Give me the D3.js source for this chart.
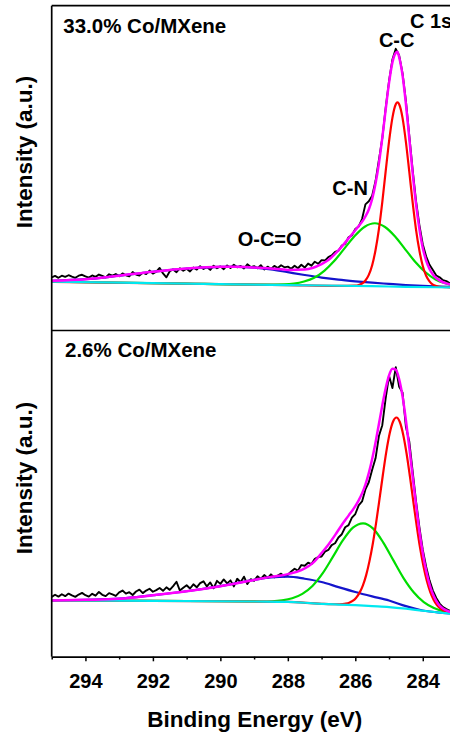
<!DOCTYPE html>
<html>
<head>
<meta charset="utf-8">
<script src="https://cdn.jsdelivr.net/npm/d3@7/dist/d3.min.js"></script>
<style>
  body { margin: 0; background: #fff; }
  text { font-family: Arial, "Liberation Sans", sans-serif; font-weight: bold; fill: #000; }
</style>
</head>
<body>
<svg id="chart" width="450" height="738"></svg>
<script>
// ---- data (binding energy in eV, intensity in arbitrary units) ----
const majorTicks = [294, 292, 290, 288, 286, 284];
const minorTicks = [295, 293, 291, 289, 287, 285, 283];

// measured spectra, one point every 0.1 eV starting at 295.0 eV
const energyStart = 295, energyStep = 0.1;
const rawTop = [
  2.2, 2.8, 2.0, 2.9, 2.4, 3.1, 2.5, 2.0, 2.9, 3.3,
  2.6, 2.1, 3.0, 2.4, 3.4, 2.8, 2.2, 3.5, 2.9, 3.6,
  2.7, 3.9, 3.1, 2.6, 4.5, 3.4, 3.0, 4.2, 3.6, 5.1,
  3.8, 4.6, 6.2, 3.9, 2.2, 4.8, 5.6, 4.4, 6.1, 5.0,
  5.9, 4.7, 6.4, 5.5, 7.0, 5.8, 6.6, 5.4, 7.2, 6.1,
  6.9, 5.7, 7.3, 6.2, 7.6, 6.5, 7.1, 6.0, 7.8, 6.6,
  7.0, 6.1, 7.4, 5.6, 6.8, 5.8, 7.1, 6.2, 7.4, 6.5,
  6.8, 5.9, 7.2, 6.1, 7.6, 6.4, 8.1, 7.2, 8.9, 8.0,
  9.6, 9.4, 10.9, 11.6, 13.1, 13.6, 15.8, 16.6, 19.4, 20.2,
  22.9, 24.0, 27.2, 33.5, 34.8, 37.2, 43.5, 52.6, 61.8, 74.8,
  86.4, 95.6, 100.2, 97.4, 89.8, 77.9, 63.1, 48.3, 35.0, 24.6,
  16.4, 11.2, 7.6, 5.3, 3.0, 2.2, 1.0, 0.6, -0.3
];
const rawBottom = [
  1.5, 2.4, 1.6, 2.6, 1.8, 2.9, 2.1, 1.5, 2.5, 3.2,
  2.2, 1.6, 2.8, 2.0, 3.6, 2.4, 1.8, 3.1, 2.6, 1.9,
  3.4, 4.2, 2.9, 3.5, 2.3, 3.8, 4.6, 3.1, 4.2, 5.0,
  3.7, 4.4, 5.3, 4.1, 5.6, 4.5, 6.1, 8.0, 4.2, 5.4,
  6.5, 5.1, 6.9, 5.6, 7.4, 8.2, 6.0, 7.7, 5.2, 8.4,
  7.1, 9.0, 7.3, 8.6, 6.0, 9.3, 7.8, 10.2, 7.0, 9.1,
  8.4, 10.4, 9.2, 10.9, 9.6, 11.2, 9.9, 10.7, 11.5, 10.3,
  11.0, 12.4, 13.6, 12.8, 15.2, 14.9, 16.2, 15.6, 17.9, 18.6,
  18.9, 21.0, 21.7, 23.8, 24.6, 27.1, 28.5, 31.5, 32.4, 35.6,
  37.2, 40.9, 42.6, 47.8, 50.9, 56.3, 61.2, 70.8, 75.5, 87.0,
  96.8, 91.5, 100.5, 92.0, 89.6, 74.8, 68.5, 55.6, 42.8, 31.6,
  21.8, 14.5, 8.6, 4.2, 1.0, -1.4, -2.9, -3.8, -4.5
];

// fitted curves, [energy, intensity]
const topBackground = [[295, 0.3], [292, -0.3], [289, -0.9], [287, -1.3], [285.5, -1.6], [284.5, -1.85], [283, -2.15]];
const topOCO = [[295, 0.7], [294, 1.4], [293, 2.9], [292, 4.6], [291, 6.0], [290, 6.7], [289.5, 6.7], [289, 6.4],
  [288.5, 5.6], [288, 4.4], [287.5, 3.2], [287, 2.1], [286.5, 1.2], [286, 0.5], [285.5, -0.1], [285, -0.6],
  [284.5, -1.1], [284, -1.5], [283.5, -1.8], [283, -2.0]];
const topCN = [[295, 0.3], [291, -0.5], [289.5, -0.85], [288.42, -0.9], [288.12, -0.84], [287.82, -0.5],
  [287.52, 0.4], [287.22, 2.0], [286.92, 5.0], [286.62, 9.3], [286.32, 14.6], [286.02, 19.9], [285.72, 23.9],
  [285.42, 25.4], [285.12, 23.8], [284.82, 19.7], [284.52, 14.2], [284.22, 8.8], [283.92, 4.4], [283.62, 1.3],
  [283.32, -0.4], [283.02, -1.45]];
const topCC = [[295, 0.3], [290, -0.72], [288, -1.12], [286.5, -1.43], [286.0, -1.34], [285.9, -1.07],
  [285.8, -0.44], [285.7, 0.84], [285.6, 3.25], [285.5, 7.37], [285.4, 13.95], [285.3, 22.9], [285.2, 34.5],
  [285.1, 47.6], [285.0, 60.4], [284.9, 70.6], [284.8, 76.4], [284.75, 77.2], [284.7, 76.4], [284.6, 70.6],
  [284.5, 60.3], [284.4, 47.5], [284.3, 34.3], [284.2, 22.7], [284.1, 13.7], [284.0, 7.1], [283.9, 2.9],
  [283.8, 0.5], [283.7, -0.9], [283.6, -1.5], [283.5, -1.84], [283.3, -2.05], [283.0, -2.15]];
const topEnvelope = [[295, 0.7], [294, 1.4], [293, 2.9], [292, 4.6], [291, 6.0], [290, 6.7], [289.5, 6.7],
  [289, 6.4], [288.5, 6.0], [288, 5.4], [287.5, 5.6], [287, 7.9], [286.8, 9.6], [286.6, 12.3], [286.4, 15.4],
  [286.2, 18.9], [286.0, 22.4], [285.9, 24.2], [285.8, 26.0], [285.7, 28.3], [285.6, 31.3], [285.5, 35.8],
  [285.4, 42.4], [285.3, 51.1], [285.2, 62.0], [285.1, 74.1], [285.0, 85.6], [284.9, 94.4], [284.8, 98.5],
  [284.75, 98.9], [284.7, 96.6], [284.6, 88.9], [284.5, 76.6], [284.4, 61.9], [284.3, 46.9], [284.2, 33.6],
  [284.1, 23.0], [284.0, 14.8], [283.9, 9.4], [283.8, 5.8], [283.7, 3.45], [283.6, 1.9], [283.5, 0.9],
  [283.4, 0.1], [283.3, -0.4], [283.2, -0.8], [283.0, -1.35]];

const bottomBackground = [[295, 0.0], [292, -0.2], [289, -0.5], [288, -0.7], [287.5, -1.05], [287, -1.5],
  [286.5, -1.82], [286, -2.1], [285.5, -2.5], [285, -2.9], [284.5, -3.6], [284, -4.5], [283.5, -5.3],
  [283.2, -5.7], [283, -5.9]];
const bottomOCO = [[295, -0.1], [294, 0.2], [293, 0.7], [292, 2.2], [291, 3.9], [290, 6.1], [289, 8.8],
  [288.5, 9.9], [288, 10.2], [287.5, 9.3], [287, 7.9], [286.5, 5.7], [286, 3.6], [285.5, 1.7], [285, -0.1],
  [284.5, -2.5], [284, -4.4], [283.5, -5.3], [283.2, -5.6], [283, -5.8]];
const bottomCN = [[295, 0.0], [292, -0.2], [290, -0.4], [288.77, -0.5], [288.47, -0.4], [288.17, 0.0],
  [287.87, 0.9], [287.57, 2.8], [287.27, 6.2], [286.97, 11.6], [286.67, 18.6], [286.37, 25.8], [286.07, 31.3],
  [285.77, 33.2], [285.47, 30.9], [285.17, 24.9], [284.87, 17.2], [284.57, 9.6], [284.27, 3.5], [283.97, -0.75],
  [283.67, -3.3], [283.37, -4.8], [283.07, -5.6]];
const bottomCC = [[295, 0.0], [292, -0.2], [289, -0.5], [288, -0.7], [287, -1.5], [286.48, -1.7],
  [286.38, -1.63], [286.28, -1.43], [286.18, -1.02], [286.08, -0.25], [285.98, 1.04], [285.88, 3.1],
  [285.78, 6.2], [285.68, 10.75], [285.58, 16.9], [285.48, 24.5], [285.38, 33.7], [285.28, 43.9],
  [285.18, 54.35], [285.08, 64.1], [284.98, 72.0], [284.88, 77.1], [284.78, 78.8], [284.68, 76.85],
  [284.58, 71.4], [284.48, 63.3], [284.38, 53.3], [284.28, 42.6], [284.18, 32.1], [284.08, 22.6],
  [283.98, 14.8], [283.88, 8.4], [283.78, 3.65], [283.68, 0.3], [283.58, -2.0], [283.48, -3.5],
  [283.38, -4.5], [283.28, -5.1], [283.18, -5.5], [283.08, -5.7]];
const bottomEnvelope = [[295, -0.1], [294, 0.2], [293, 0.7], [292, 2.2], [291, 3.9], [290, 6.1], [289, 8.8],
  [288.5, 10.1], [288, 11.3], [287.6, 13.0], [287.2, 16.9], [287, 20.4], [286.8, 24.0], [286.6, 28.1],
  [286.4, 32.5], [286.2, 36.5], [286, 40.6], [285.9, 43.1], [285.8, 46.1], [285.7, 49.9], [285.6, 54.8],
  [285.5, 60.9], [285.4, 68.05], [285.3, 76.0], [285.2, 84.0], [285.1, 91.25], [285, 96.9], [284.9, 99.8],
  [284.8, 99.4], [284.7, 95.3], [284.6, 88.0], [284.5, 77.7], [284.4, 65.9], [284.3, 53.4], [284.2, 41.2],
  [284.1, 29.9], [284, 20.4], [283.9, 12.8], [283.8, 6.9], [283.7, 2.7], [283.6, -0.25], [283.5, -2.3],
  [283.4, -3.55], [283.3, -4.35], [283.2, -4.9], [283, -5.45]];

// ---- layout ----
const svg = d3.select("#chart");
const left = 51.7, right = 456.5, axisY = 656.7;
const x = d3.scaleLinear().domain([295, 283]).range([left, right]);

const COLORS = {
  raw: "#000000", oco: "#1414cc", cn: "#00dd00", cc: "#ff0000", bg: "#00e8f0", env: "#ff00ff"
};

const panels = [
  { name: "top", title: "33.0% Co/MXene", y0: 5.7, y1: 330.5, dom: [-20.6, 118.7],
    raw: rawTop, bg: topBackground, oco: topOCO, cn: topCN, cc: topCC, env: topEnvelope,
    titleX: 63.3, titleY: 33.3, yLabel: 152 },
  { name: "bottom", title: "2.6% Co/MXene", y0: 330.5, y1: axisY, dom: [-24.3, 116.3],
    raw: rawBottom, bg: bottomBackground, oco: bottomOCO, cn: bottomCN, cc: bottomCC, env: bottomEnvelope,
    titleX: 65, titleY: 356.5, yLabel: 478 }
];

const defs = svg.append("defs");

panels.forEach(function (p) {
  const y = d3.scaleLinear().domain(p.dom).range([p.y1, p.y0]);

  defs.append("clipPath").attr("id", "clip-" + p.name)
    .append("rect")
    .attr("x", left).attr("y", p.y0)
    .attr("width", right - left).attr("height", p.y1 - p.y0);

  const g = svg.append("g").attr("clip-path", "url(#clip-" + p.name + ")");

  const smooth = d3.line()
    .x(function (d) { return x(d[0]); })
    .y(function (d) { return y(d[1]); })
    .curve(d3.curveMonotoneX);

  const rawPoints = p.raw.map(function (v, i) { return [energyStart - i * energyStep, v]; });
  const jagged = d3.line()
    .x(function (d) { return x(d[0]); })
    .y(function (d) { return y(d[1]); });

  g.append("path").datum(rawPoints)
    .attr("d", jagged)
    .attr("fill", "none").attr("stroke", COLORS.raw).attr("stroke-width", 1.9)
    .attr("stroke-linejoin", "round");

  [["oco", 2.2], ["cn", 2.2], ["cc", 2.2], ["bg", 2.2], ["env", 2.5]].forEach(function (c) {
    g.append("path").datum(p[c[0]])
      .attr("d", smooth)
      .attr("fill", "none")
      .attr("stroke", COLORS[c[0]])
      .attr("stroke-width", c[1]);
  });

  svg.append("text")
    .attr("x", p.titleX).attr("y", p.titleY)
    .style("font-size", "20.5px")
    .text(p.title);

  svg.append("text")
    .attr("transform", "translate(32," + p.yLabel + ") rotate(-90)")
    .attr("text-anchor", "middle")
    .style("font-size", "22.5px")
    .text("Intensity (a.u.)");
});

// peak labels (top panel); "C 1s" runs off the right edge as in the original
const notes = svg.append("g").style("font-size", "20px");
notes.append("text").attr("x", 410).attr("y", 27.5).text("C 1s");
notes.append("text").attr("x", 396.7).attr("y", 47.3).attr("text-anchor", "middle").text("C-C");
notes.append("text").attr("x", 332.3).attr("y", 195).text("C-N");
notes.append("text").attr("x", 237.7).attr("y", 246).text("O-C=O");

// frame
const frame = svg.append("g").attr("stroke", "#000").attr("stroke-width", 1.7);
frame.append("line").attr("x1", left).attr("x2", left).attr("y1", 5.7).attr("y2", axisY);
frame.append("line").attr("x1", left).attr("x2", right).attr("y1", 5.7).attr("y2", 5.7);
frame.append("line").attr("x1", left).attr("x2", right).attr("y1", 330.5).attr("y2", 330.5);

// x axis
const minorAxis = svg.append("g")
  .attr("transform", "translate(0," + axisY + ")")
  .call(d3.axisBottom(x).tickValues(minorTicks).tickSize(2.8).tickFormat(""));
minorAxis.select(".domain").remove();
minorAxis.selectAll("line").attr("stroke-width", 1.5);

const majorAxis = svg.append("g")
  .attr("transform", "translate(0," + axisY + ")")
  .call(d3.axisBottom(x).tickValues(majorTicks).tickSize(4.6).tickSizeOuter(0).tickFormat(d3.format("d")));
majorAxis.select(".domain").attr("stroke-width", 1.7);
majorAxis.selectAll("line").attr("stroke-width", 1.5);
majorAxis.selectAll("text")
  .attr("dy", null)
  .attr("y", 31.6)
  .attr("fill", "#000")
  .style("font-size", "20px")
  .style("font-family", "Arial, 'Liberation Sans', sans-serif")
  .style("font-weight", "bold");

svg.append("text")
  .attr("x", 254.7).attr("y", 726.5)
  .attr("text-anchor", "middle")
  .style("font-size", "22.5px")
  .text("Binding Energy (eV)");
</script>
</body>
</html>
